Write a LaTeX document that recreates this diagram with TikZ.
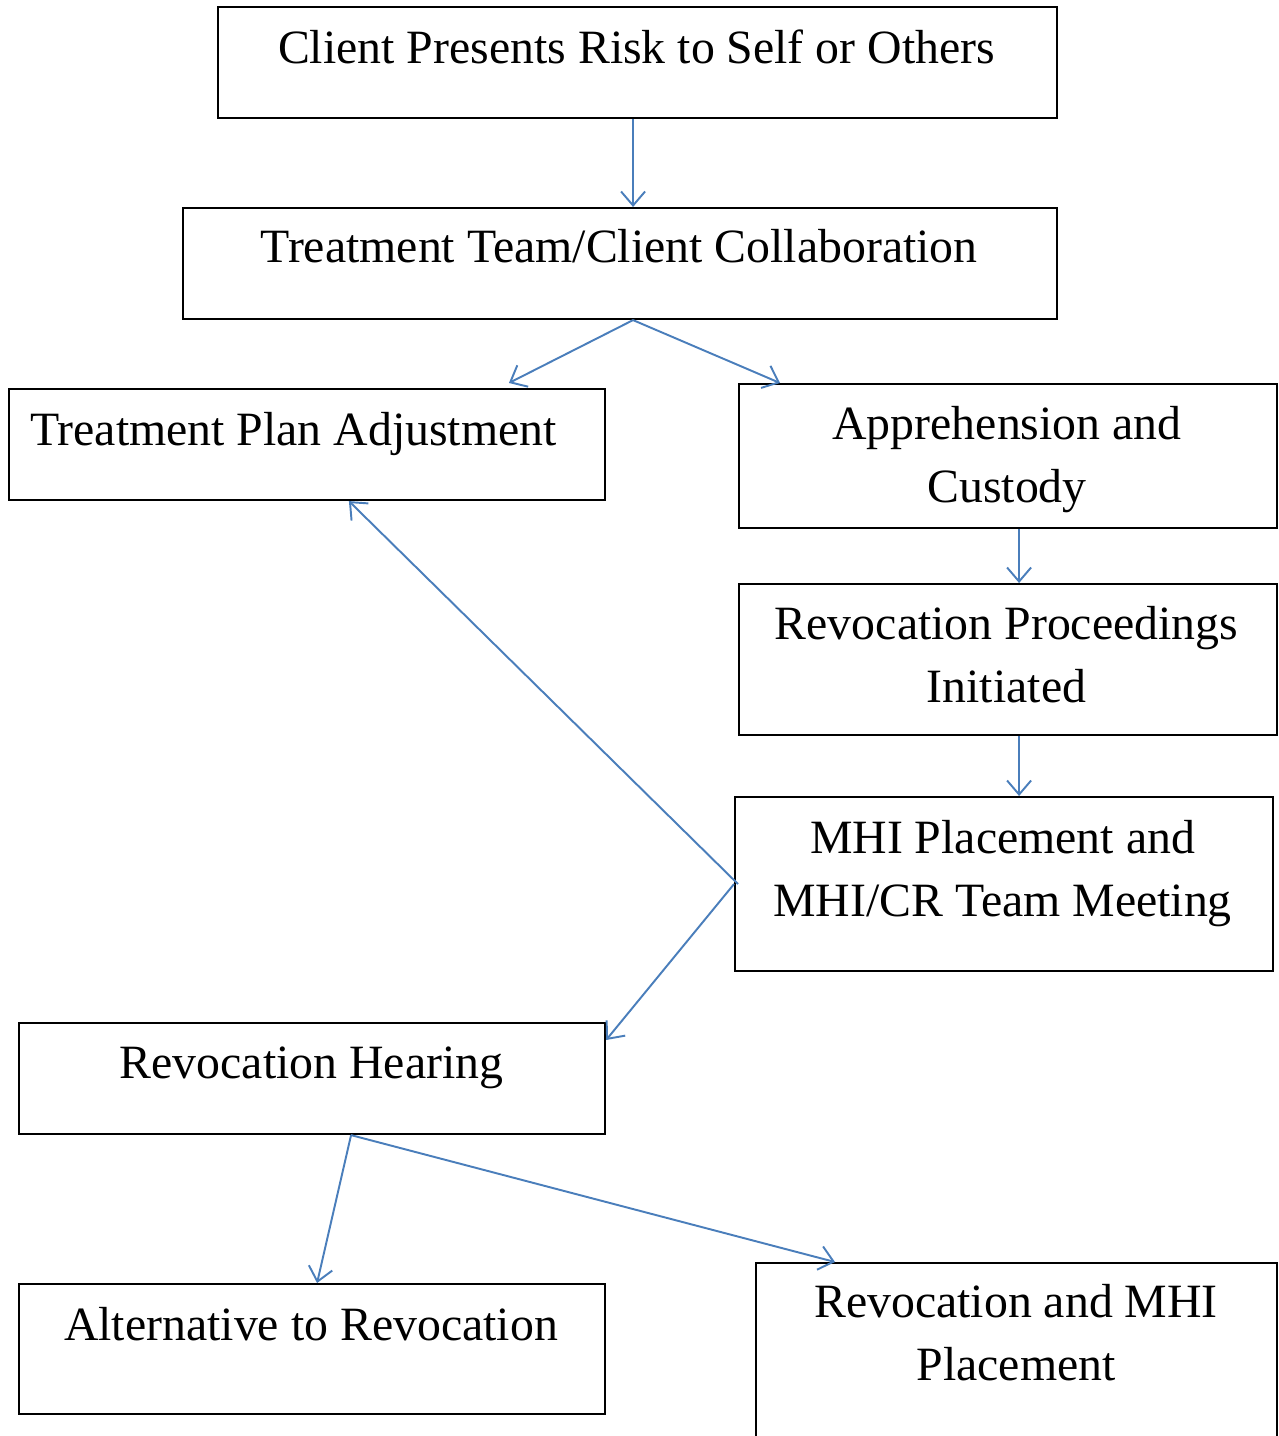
\documentclass[tikz,border=0pt]{standalone}
\usepackage{fontspec}
\setmainfont{Liberation Serif}
\usetikzlibrary{
  arrows.meta,
  positioning,
  calc
}
\definecolor{seta}{RGB}{74,126,187}

\begin{document}
\begin{tikzpicture}[
    x=1cm, y=1cm,
    caixa/.style={
        draw=black,
        line width=0.6pt,
        inner sep=0pt,
        anchor=north west
    },
    texto/.style={
        inner sep=0pt,
        anchor=north,
        align=center,
        font=\fontsize{13.6}{17.9}\selectfont
    },
    fluxo/.style={
        -{Straight Barb[length=1.4mm,width=2.4mm]},
        line width=0.55pt,
        seta
    }
]
\useasboundingbox (0,0) rectangle (12.78,-14.36);

% ============================================================
% CAIXAS
% ============================================================

\node[caixa, minimum width=8.39cm, minimum height=1.11cm] (risk) at (2.17,-0.06) {};
\node[caixa, minimum width=8.74cm, minimum height=1.11cm] (collab) at (1.82,-2.07) {};
\node[caixa, minimum width=5.96cm, minimum height=1.11cm] (plan) at (0.08,-3.88) {};
\node[caixa, minimum width=5.38cm, minimum height=1.44cm] (appr) at (7.38,-3.83) {};
\node[caixa, minimum width=5.38cm, minimum height=1.51cm] (proc) at (7.38,-5.83) {};
\node[caixa, minimum width=5.38cm, minimum height=1.74cm] (mhi) at (7.34,-7.96) {};
\node[caixa, minimum width=5.86cm, minimum height=1.11cm] (hearing) at (0.18,-10.22) {};
\node[caixa, minimum width=5.86cm, minimum height=1.30cm] (alt) at (0.18,-12.83) {};
\node[caixa, minimum width=5.21cm, minimum height=1.80cm] (revmhi) at (7.55,-12.62) {};

% ============================================================
% TEXTOS
% ============================================================

\node[texto] (risk-t) at (6.365,-0.29) {Client Presents Risk to Self or Others};
\node[texto] (collab-t) at (6.19,-2.29) {Treatment Team/Client Collaboration};
\node[texto] (plan-t) at (2.935,-4.12) {Treatment Plan Adjustment};
\node[texto] (appr-t) at (10.07,-4.06) {Apprehension and\\Custody};
\node[texto] (proc-t) at (10.065,-6.06) {Revocation Proceedings\\Initiated};
\node[texto] (mhi-t) at (10.025,-8.20) {MHI Placement and\\MHI/CR Team Meeting};
\node[texto] (hearing-t) at (3.115,-10.46) {Revocation Hearing};
\node[texto] (alt-t) at (3.11,-13.07) {Alternative to Revocation};
\node[texto] (revmhi-t) at (10.16,-12.84) {Revocation and MHI\\Placement};

% ============================================================
% SETAS
% ============================================================

\draw[fluxo] ([xshift=-0.45mm]risk.south) -- ([xshift=-0.45mm]risk.south |- collab.north);
\draw[fluxo] ([xshift=-0.45mm]risk.south |- collab.south) -- ([yshift=0.5mm]$(plan.north)!0.675!(plan.north east)$);
\draw[fluxo] ([xshift=-0.45mm]risk.south |- collab.south) -- ([xshift=4.2mm]appr.north west);
\draw[fluxo] ([xshift=1.1mm]appr.south) -- ([xshift=1.1mm]appr.south |- proc.north);
\draw[fluxo] ([xshift=1.1mm]proc.south) -- ([xshift=1.1mm]proc.south |- mhi.north);
\draw[fluxo] ([xshift=0.4mm]mhi.west) -- ($(plan.south west)!0.57!(plan.south east)$);
\draw[fluxo] (mhi.west) -- ([yshift=-1.8mm]hearing.north east);
\draw[fluxo] ([xshift=3.9mm]hearing.south) -- ([xshift=0.5mm]alt.north);
\draw[fluxo] ([xshift=3.9mm]hearing.south) -- ([xshift=8mm]revmhi.north west);

\end{tikzpicture}
\end{document}
